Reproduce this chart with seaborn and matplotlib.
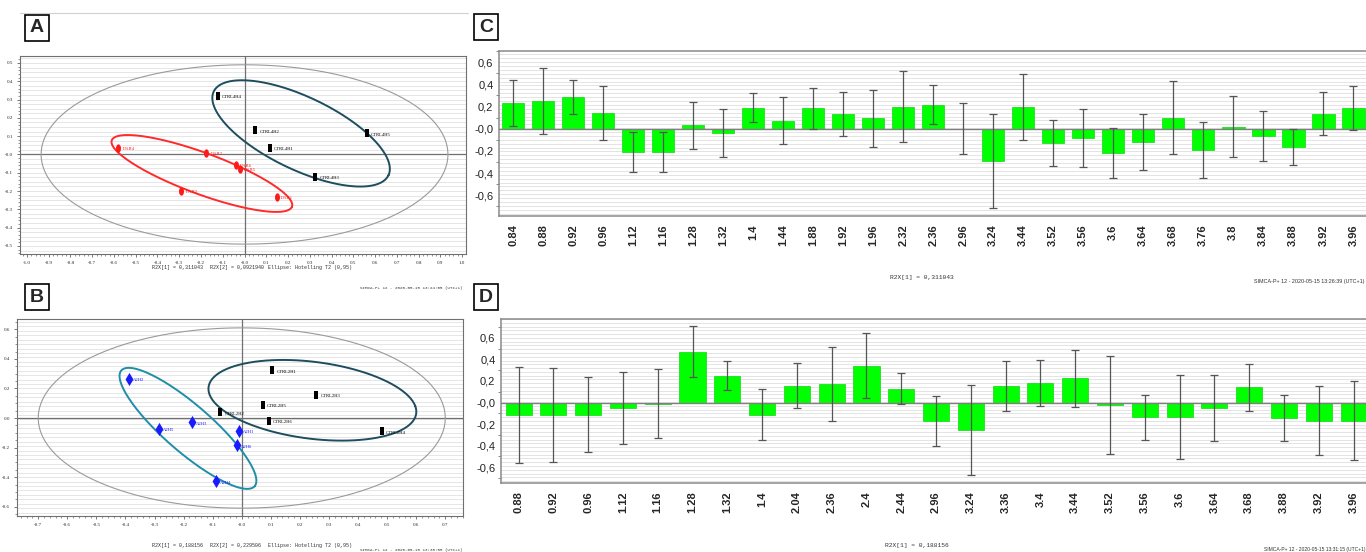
import numpy as np
import pandas as pd
import matplotlib
matplotlib.use("Agg")
import matplotlib.pyplot as plt
from matplotlib.path import Path
import seaborn as sns

sns.set_style("white")
plt.rcParams["font.family"] = ["Liberation Sans", "DejaVu Sans"]

W, H = 1366, 552

# --------------------------------------------------
# Panel A: PCA scores (4h)
# --------------------------------------------------
a_ctrl_names = ["CTRL4H4", "CTRL4H2", "CTRL4H1", "CTRL4H5", "CTRL4H3"]
a_ctrl_t1 = [-0.124, 0.05, 0.115, 0.563, 0.326]
a_ctrl_t2 = [0.32, 0.133, 0.036, 0.115, -0.122]

a_dar_names = ["DAR4", "DAR3", "DAR6", "DAR5", "DAR2", "DAR1"]
a_dar_t1 = [-0.58, -0.175, -0.04, -0.02, -0.29, 0.15]
a_dar_t2 = [0.036, 0.01, -0.058, -0.077, -0.2, -0.23]

# group ellipses: centre, two conjugate half-axes
a_ctrl_ell = [(0.26, 0.115), (0.402, -0.228), (0.07, 0.18)]
a_dar_ell = [(-0.196, -0.104), (0.414, -0.182), (0.035, 0.105)]
a_t2 = (0.935, 0.49)

# --------------------------------------------------
# Panel B: PCA scores (2h)
# --------------------------------------------------
b_ctrl_names = ["CTRL2H1", "CTRL2H3", "CTRL2H5", "CTRL2H2", "CTRL2H6", "CTRL2H4"]
b_ctrl_t1 = [0.105, 0.256, 0.072, -0.074, 0.093, 0.481]
b_ctrl_t2 = [0.322, 0.159, 0.089, 0.038, -0.018, -0.091]

b_a_names = ["A2H2", "A2H5", "A2H3", "A2H1", "A2H6", "A2H4"]
b_a_t1 = [-0.387, -0.284, -0.171, -0.011, -0.018, -0.089]
b_a_t2 = [0.266, -0.075, -0.03, -0.087, -0.184, -0.427]

b_ctrl_ell = [(0.243, 0.12), (0.354, -0.04), (-0.05, 0.27)]
b_a_ell = [(-0.185, -0.07), (0.23, -0.39), (0.05, 0.125)]
b_t2 = (0.70, 0.61)

# --------------------------------------------------
# Panel C / D: loadings bars (ppm)
# --------------------------------------------------
c_ppm = ["0.84", "0.88", "0.92", "0.96", "1.12", "1.16", "1.28", "1.32", "1.4",
         "1.44", "1.88", "1.92", "1.96", "2.32", "2.36", "2.96", "3.24", "3.44",
         "3.52", "3.56", "3.6", "3.64", "3.68", "3.76", "3.8", "3.84", "3.88",
         "3.92", "3.96"]
c_coef = [0.231, 0.25, 0.282, 0.141, -0.211, -0.211, 0.031, -0.039, 0.19,
          0.073, 0.183, 0.13, 0.093, 0.197, 0.217, 0.0, -0.29, 0.197,
          -0.127, -0.085, -0.217, -0.121, 0.099, -0.192, 0.017, -0.062, -0.163,
          0.135, 0.189]
c_err = [0.205, 0.293, 0.153, 0.247, 0.183, 0.178, 0.21, 0.217, 0.129,
         0.209, 0.185, 0.2, 0.26, 0.32, 0.178, 0.23, 0.427, 0.3,
         0.206, 0.264, 0.228, 0.255, 0.327, 0.252, 0.276, 0.226, 0.164,
         0.193, 0.2]

d_ppm = ["0.88", "0.92", "0.96", "1.12", "1.16", "1.28", "1.32", "1.4", "2.04",
         "2.36", "2.4", "2.44", "2.96", "3.24", "3.36", "3.4", "3.44", "3.52",
         "3.56", "3.6", "3.64", "3.68", "3.88", "3.92", "3.96"]
d_coef = [-0.118, -0.115, -0.115, -0.053, -0.01, 0.472, 0.248, -0.112, 0.158,
          0.171, 0.342, 0.127, -0.171, -0.255, 0.155, 0.183, 0.224, -0.022,
          -0.137, -0.134, -0.053, 0.14, -0.143, -0.168, -0.168]
d_err = [0.444, 0.438, 0.348, 0.335, 0.32, 0.239, 0.134, 0.24, 0.21,
         0.342, 0.303, 0.145, 0.235, 0.42, 0.235, 0.215, 0.262, 0.452,
         0.21, 0.39, 0.306, 0.22, 0.216, 0.32, 0.368]

bar_yticks = [0.6, 0.4, 0.2, 0.0, -0.2, -0.4, -0.6]
bar_ylabels = ["0,6", "0,4", "0,2", "-0,0", "-0,2", "-0,4", "-0,6"]

# --------------------------------------------------
# Helpers
# --------------------------------------------------
def px_axes(fig, left, top, right, bottom):
    return fig.add_axes([left / W, 1 - bottom / H, (right - left) / W, (bottom - top) / H])


def ellipse_xy(ell, n=200):
    (cx, cy), (ux, uy), (vx, vy) = ell
    t = np.linspace(0, 2 * np.pi, n)
    return cx + ux * np.cos(t) + vx * np.sin(t), cy + uy * np.cos(t) + vy * np.sin(t)


rect_marker = Path([(-0.45, -1), (0.45, -1), (0.45, 1), (-0.45, 1), (-0.45, -1)], closed=True)
tt = np.linspace(0, 2 * np.pi, 30)
oval_marker = Path(np.column_stack([0.6 * np.cos(tt), np.sin(tt)]), closed=True)


def score_panel(ax, xlim, ylim, xticks, yticks, grid_step, t2, groups, ells):
    ax.set_xlim(*xlim)
    ax.set_ylim(*ylim)
    for yy in np.arange(-1.0, 1.0, grid_step):
        ax.axhline(yy, color="#e2e2e2", lw=0.6, zorder=0)
    ax.axhline(0, color="#707070", lw=0.9, zorder=1)
    ax.axvline(0, color="#707070", lw=0.9, zorder=1)

    tx = np.linspace(0, 2 * np.pi, 300)
    ax.plot(t2[0] * np.cos(tx), t2[1] * np.sin(tx), color="#9a9a9a", lw=0.8, zorder=2)
    for ell, col in ells:
        ex, ey = ellipse_xy(ell)
        ax.plot(ex, ey, color=col, lw=1.4, zorder=3)

    for names, t1, t2v, col, mk, ms in groups:
        df = pd.DataFrame({"t1": t1, "t2": t2v})
        sns.scatterplot(data=df, x="t1", y="t2", ax=ax, color=col, marker=mk,
                        s=ms, edgecolor=col, linewidth=0, zorder=4)
        for n, x, y in zip(names, t1, t2v):
            ax.annotate(n, (x, y), xytext=(3, -1), textcoords="offset points",
                        fontsize=3.3, color=col, va="center",
                        family="Liberation Serif")

    ax.set_xticks(xticks)
    ax.set_xticklabels([f"{v:.1f}" for v in xticks], fontsize=3.6, family="Liberation Serif")
    ax.set_yticks(yticks)
    ax.set_yticklabels([f"{v:.1f}" for v in yticks], fontsize=3.6, family="Liberation Serif")
    ax.minorticks_on()
    ax.tick_params(which="major", length=2.5, width=0.5, color="#444444", pad=2.5, direction="out",
                   bottom=True, left=True)
    ax.tick_params(which="minor", length=1.2, width=0.4, color="#444444", bottom=True, left=True)
    ax.set_xlabel("")
    ax.set_ylabel("")
    for s in ax.spines.values():
        s.set_color("#707070")
        s.set_linewidth(0.8)


def bar_panel(ax, ppm, coef, err, xlim, ylim):
    df = pd.DataFrame({"ppm": ppm, "coef": coef})
    for yy in np.arange(-0.8, 0.8, 0.035):
        ax.axhline(yy, color="#e4e4e4", lw=0.7, zorder=0)
    sns.barplot(data=df, x="ppm", y="coef", order=ppm, color="#00ff00",
                edgecolor="#22dd22", linewidth=0.6, width=0.75, saturation=1,
                errorbar=None, ax=ax, zorder=2)
    ax.axhline(0, color="#808080", lw=1.0, zorder=3)
    ax.errorbar(np.arange(len(ppm)), coef, yerr=err, fmt="none", ecolor="#555555",
                elinewidth=0.9, capsize=3, capthick=0.9, zorder=4)
    ax.set_xlim(*xlim)
    ax.set_ylim(*ylim)
    ax.set_yticks(bar_yticks)
    ax.set_yticklabels(bar_ylabels, fontsize=8, color="#222222")
    ax.set_yticks(np.arange(-0.7, 0.75, 0.2), minor=True)
    ax.tick_params(axis="y", which="major", length=3, width=0.7, color="#777777", pad=1)
    ax.tick_params(axis="y", which="minor", length=2, width=0.6, color="#777777", left=True)
    ax.tick_params(axis="x", length=0, pad=6)
    for lab in ax.get_xticklabels():
        lab.set_rotation(90)
        lab.set_fontsize(8)
        lab.set_fontweight("bold")
    ax.set_xlabel("")
    ax.set_ylabel("")
    for s in ax.spines.values():
        s.set_color("#8a8a8a")
        s.set_linewidth(1.1)


def panel_letter(fig, x, y, letter):
    fig.text(x / W, 1 - y / H, letter, fontsize=14, fontweight="bold", ha="center", va="center",
             bbox=dict(boxstyle="square,pad=0.25", fc="white", ec="black", lw=1.2))


def tiny(fig, x, y, s, size=3.6, ha="left", family="Liberation Mono"):
    fig.text(x / W, 1 - y / H, s, fontsize=size, family=family, color="#333333",
             ha=ha, va="center")


# --------------------------------------------------
# Figure
# --------------------------------------------------
fig = plt.figure(figsize=(W / 100, H / 100), dpi=100)

fig.add_artist(plt.Line2D([20 / W, 468 / W], [1 - 13 / H, 1 - 13 / H], color="#d0d0d0", lw=0.8))

axA = px_axes(fig, 20, 56, 466, 254)
score_panel(axA, (-1.032, 1.018), (-0.544, 0.538),
            np.round(np.arange(-1.0, 1.01, 0.1), 1), np.round(np.arange(-0.5, 0.51, 0.1), 1), 0.025,
            a_t2,
            [(a_ctrl_names, a_ctrl_t1, a_ctrl_t2, "black", rect_marker, 40),
             (a_dar_names, a_dar_t1, a_dar_t2, "#ff1a1a", oval_marker, 36)],
            [(a_ctrl_ell, "#1d4e5f"), (a_dar_ell, "#ff2a2a")])

axB = px_axes(fig, 17, 319, 463, 516)
score_panel(axB, (-0.773, 0.761), (-0.663, 0.67),
            np.round(np.arange(-0.7, 0.71, 0.1), 1), np.round(np.arange(-0.6, 0.61, 0.2), 1), 0.03,
            b_t2,
            [(b_ctrl_names, b_ctrl_t1, b_ctrl_t2, "black", rect_marker, 40),
             (b_a_names, b_a_t1, b_a_t2, "#1a1aff", "d", 45)],
            [(b_ctrl_ell, "#1d4e5f"), (b_a_ell, "#1f8ea6")])

axC = px_axes(fig, 499, 51, 1380, 216)
bar_panel(axC, c_ppm, c_coef, c_err, (-0.467, 28.89), (-0.786, 0.61))

axD = px_axes(fig, 501, 319, 1380, 483)
bar_panel(axD, d_ppm, d_coef, d_err, (-0.505, 24.76), (-0.748, 0.776))

panel_letter(fig, 37, 28, "A")
panel_letter(fig, 37, 297, "B")
panel_letter(fig, 486, 27, "C")
panel_letter(fig, 486, 297, "D")

tiny(fig, 152, 267, "R2X[1] = 0,311043")
tiny(fig, 210, 267, "R2X[2] = 0,0921940")
tiny(fig, 268, 267, "Ellipse: Hotelling T2 (0,95)")
tiny(fig, 463, 288, "SIMCA-P+ 12 - 2020-05-15 13:24:05 (UTC+1)", size=3.0, ha="right")

tiny(fig, 152, 546, "R2X[1] = 0,188156")
tiny(fig, 210, 546, "R2X[2] = 0,229506")
tiny(fig, 268, 546, "Ellipse: Hotelling T2 (0,95)")
tiny(fig, 463, 550, "SIMCA-P+ 12 - 2020-05-15 13:30:55 (UTC+1)", size=3.0, ha="right")

tiny(fig, 890, 278, "R2X[1] = 0,311043", size=4.5)
tiny(fig, 1365, 281, "SIMCA-P+ 12 - 2020-05-15 13:26:39 (UTC+1)", size=3.9, ha="right",
     family="Liberation Sans")
tiny(fig, 885, 546, "R2X[1] = 0,188156", size=4.5)
tiny(fig, 1365, 549, "SIMCA-P+ 12 - 2020-05-15 13:31:15 (UTC+1)", size=3.6, ha="right",
     family="Liberation Sans")

fig.savefig("out.png", dpi=100)
